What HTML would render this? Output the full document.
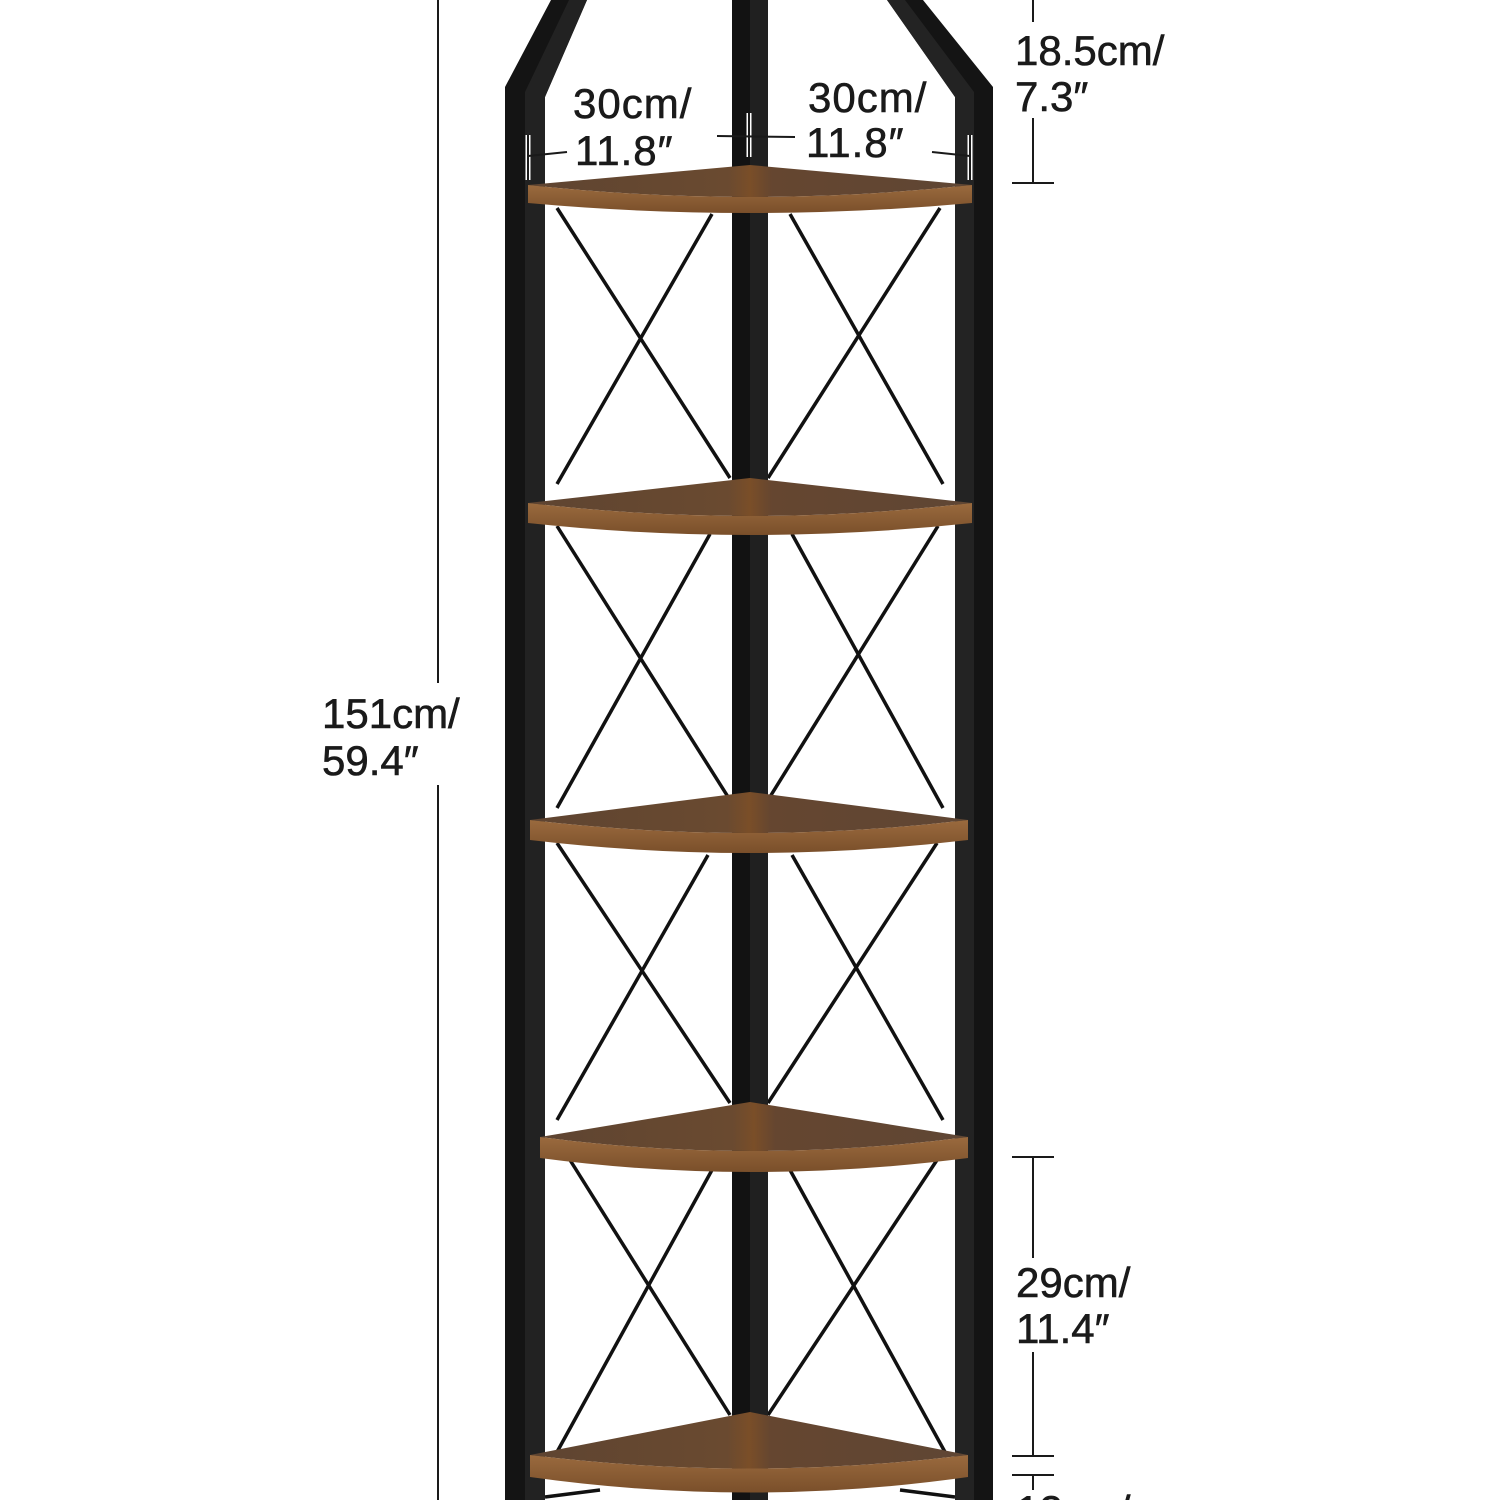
<!DOCTYPE html>
<html><head><meta charset="utf-8"><style>
html,body{margin:0;padding:0;background:#fff;}
svg{display:block}
text{font-family:"Liberation Sans",sans-serif;fill:#1a1a1a;stroke:#1a1a1a;stroke-width:0.6;}
</style></head><body>
<svg width="1500" height="1500" viewBox="0 0 1500 1500" xmlns="http://www.w3.org/2000/svg">
<defs>
<linearGradient id="top" x1="0" y1="0" x2="1" y2="0">
<stop offset="0" stop-color="#5e4431"/><stop offset="0.45" stop-color="#6a4a30"/><stop offset="0.5" stop-color="#7a4e28"/><stop offset="0.55" stop-color="#654630"/><stop offset="1" stop-color="#5f4634"/>
</linearGradient>
<linearGradient id="edge" x1="0" y1="0" x2="0" y2="1">
<stop offset="0" stop-color="#9a6a3e"/><stop offset="1" stop-color="#7a4f2a"/>
</linearGradient>
</defs>

<g stroke="#111" stroke-width="3.5" fill="none">
<line x1="557" y1="208" x2="730" y2="478"/><line x1="712" y1="214" x2="557" y2="484"/>
<line x1="790" y1="214" x2="943" y2="484"/><line x1="940" y1="208" x2="768" y2="478"/>
<line x1="557" y1="526" x2="730" y2="800"/><line x1="710" y1="534" x2="557" y2="808"/>
<line x1="792" y1="534" x2="943" y2="808"/><line x1="938" y1="526" x2="768" y2="800"/>
<line x1="557" y1="843" x2="730" y2="1103"/><line x1="708" y1="855" x2="557" y2="1120"/>
<line x1="792" y1="855" x2="943" y2="1120"/><line x1="937" y1="843" x2="768" y2="1103"/>
<line x1="570" y1="1160" x2="730" y2="1415"/><line x1="712" y1="1170" x2="557" y2="1452"/>
<line x1="790" y1="1170" x2="945" y2="1452"/><line x1="937" y1="1160" x2="768" y2="1415"/>
<line x1="545" y1="1497" x2="600" y2="1490"/><line x1="955" y1="1497" x2="900" y2="1490"/>
</g>

<polygon points="505,1500 505,87 551,0 587,0 545,97 545,1500" fill="#141414"/>
<polygon points="525,1500 525,92 569,0 587,0 545,97 545,1500" fill="#222"/>
<polygon points="955,1500 955,97 887,0 923,0 993,87 993,1500" fill="#141414"/>
<polygon points="955,1500 955,97 887,0 905,0 974,92 974,1500" fill="#232323"/>
<rect x="732" y="0" width="18" height="1500" fill="#121212"/>
<rect x="750" y="0" width="18" height="1500" fill="#202020"/>

<g>
<path d="M528,185 L750,165 L972,185 Q750,209 528,185 Z" fill="url(#top)"/>
<path d="M528,185 Q750,209 972,185 L972,203 Q750,223 528,203 Z" fill="url(#edge)"/>

<path d="M528,503 L750,478 L972,503 Q750,529 528,503 Z" fill="url(#top)"/>
<path d="M528,503 Q750,529 972,503 L972,523 Q750,547 528,523 Z" fill="url(#edge)"/>

<path d="M530,820 L750,792 L968,820 Q750,846 530,820 Z" fill="url(#top)"/>
<path d="M530,820 Q750,846 968,820 L968,840 Q750,866 530,840 Z" fill="url(#edge)"/>

<path d="M540,1137 L750,1102 L968,1137 Q750,1165 540,1137 Z" fill="url(#top)"/>
<path d="M540,1137 Q750,1165 968,1137 L968,1158 Q750,1186 540,1158 Z" fill="url(#edge)"/>

<path d="M530,1455 L750,1412 L968,1455 Q750,1482 530,1455 Z" fill="url(#top)"/>
<path d="M530,1455 Q750,1482 968,1455 L968,1477 Q750,1508 530,1477 Z" fill="url(#edge)"/>
</g>

<g stroke="#1a1a1a" stroke-width="2" fill="none">
<line x1="438" y1="0" x2="438" y2="683"/><line x1="438" y1="785" x2="438" y2="1500"/>
<line x1="1033" y1="0" x2="1033" y2="22"/><line x1="1033" y1="118" x2="1033" y2="183"/>
<line x1="1012" y1="183" x2="1054" y2="183"/>
<line x1="1033" y1="1157" x2="1033" y2="1258"/><line x1="1033" y1="1352" x2="1033" y2="1456"/>
<line x1="1012" y1="1157" x2="1054" y2="1157"/><line x1="1012" y1="1456" x2="1054" y2="1456"/>
<line x1="1012" y1="1475" x2="1054" y2="1475"/><line x1="1033" y1="1475" x2="1033" y2="1490"/>
</g>
<g stroke="#fff" stroke-width="5" fill="none">
<line x1="528" y1="135" x2="528" y2="180"/><line x1="749" y1="113" x2="749" y2="157"/><line x1="970" y1="135" x2="970" y2="180"/>
</g>
<g stroke="#1a1a1a" stroke-width="2" fill="none">
<line x1="528" y1="135" x2="528" y2="180"/><line x1="528" y1="156" x2="567" y2="152"/>
<line x1="749" y1="113" x2="749" y2="157"/><line x1="717" y1="136" x2="795" y2="137"/>
<line x1="970" y1="135" x2="970" y2="180"/><line x1="932" y1="152" x2="970" y2="156"/>
</g>

<g font-size="42">
<text x="322" y="728">151cm/</text><text x="322" y="775">59.4″</text>
<text x="1015" y="65">18.5cm/</text><text x="1015" y="111">7.3″</text>
<text x="1016" y="1297">29cm/</text><text x="1016" y="1343">11.4″</text>
<text x="1016" y="1525">12cm/</text>
</g>
<g font-size="42" letter-spacing="1">
<text x="573" y="118">30cm/</text><text x="575" y="165">11.8″</text>
<text x="808" y="112">30cm/</text><text x="806" y="157">11.8″</text>
</g>
</svg>
</body></html>
